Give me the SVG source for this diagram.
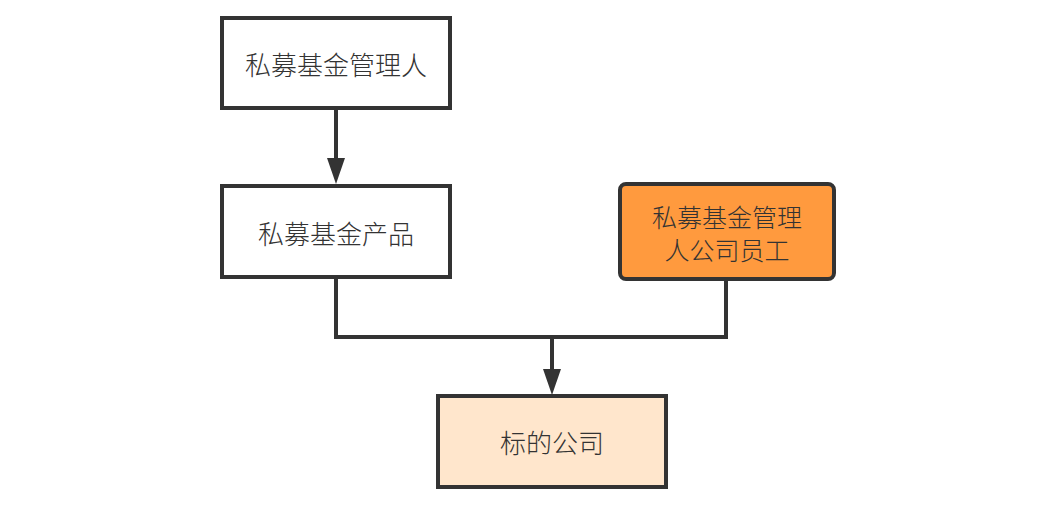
<svg xmlns="http://www.w3.org/2000/svg" width="1052" height="506" viewBox="0 0 1052 506">
<defs>
<style>
.box{stroke:#333;stroke-width:4;}
.t{font-family:"Noto Sans CJK SC","Noto Sans",sans-serif;font-size:26px;font-weight:300;fill:#333;text-anchor:middle;dominant-baseline:central;}
.t2{font-size:25px;}
.c{fill:none;stroke:#333;stroke-width:4;}
</style>
<marker id="ah" markerUnits="userSpaceOnUse" markerWidth="26" markerHeight="18" refX="12" refY="9" viewBox="0 0 26 18" orient="auto">
<path d="M0,0 L26,9 L0,18 Z" fill="#333"/>
</marker>
</defs>
<rect width="1052" height="506" fill="#fff"/>
<g id="connectors">
<path class="c" d="M336,109 L336,170" marker-end="url(#ah)"/>
<path class="c" d="M336,278 L336,337 L726,337 L726,281"/>
<path class="c" d="M552,337 L552,381" marker-end="url(#ah)"/>
</g>
<g id="n1">
<rect class="box" x="222" y="18" width="228" height="90" fill="#fff"/>
<text class="t" x="336" y="63">私募基金管理人</text>
</g>
<g id="n2">
<rect class="box" x="222" y="186" width="228" height="91" fill="#fff"/>
<text class="t" x="336" y="232">私募基金产品</text>
</g>
<g id="n3">
<rect class="box" x="620" y="184" width="214" height="95" rx="6" fill="#FF9A3E"/>
<text class="t t2" x="727" y="216">私募基金管理</text>
<text class="t t2" x="727" y="249">人公司员工</text>
</g>
<g id="n4">
<rect class="box" x="438" y="396" width="228" height="91" fill="#FFE6CC"/>
<text class="t" x="552" y="441">标的公司</text>
</g>
</svg>
